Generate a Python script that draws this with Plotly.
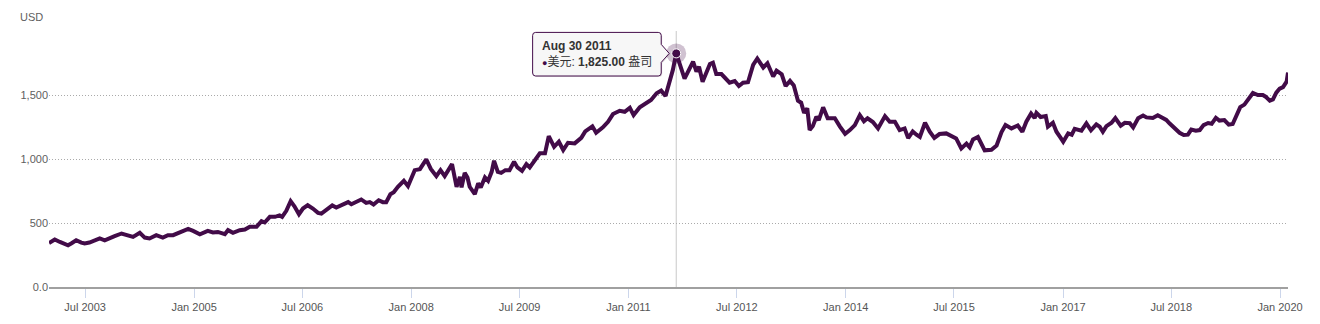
import plotly.graph_objects as go

# ---------------- data ----------------
dates = [
    "2002-12-31", "2003-01-29", "2003-02-24", "2003-03-11", "2003-04-06", "2003-04-22",
    "2003-05-17", "2003-06-12", "2003-06-29", "2003-07-23", "2003-08-18", "2003-09-13",
    "2003-10-08", "2003-11-03", "2003-11-27", "2004-01-01", "2004-01-25", "2004-02-28",
    "2004-04-02", "2004-04-27", "2004-05-21", "2004-06-24", "2004-07-27", "2004-08-22",
    "2004-09-17", "2004-10-21", "2004-12-02", "2004-12-27", "2005-01-30", "2005-03-11",
    "2005-04-06", "2005-05-01", "2005-06-05", "2005-06-21", "2005-07-16", "2005-08-19",
    "2005-09-14", "2005-10-09", "2005-11-12", "2005-12-07", "2005-12-23", "2006-01-18",
    "2006-02-13", "2006-03-08", "2006-03-21", "2006-04-11", "2006-05-03", "2006-05-22",
    "2006-06-14", "2006-07-04", "2006-07-28", "2006-08-23", "2006-09-18", "2006-10-05",
    "2006-10-29", "2006-11-29", "2006-12-19", "2007-01-10", "2007-02-01", "2007-02-17",
    "2007-03-05", "2007-03-29", "2007-04-24", "2007-05-19", "2007-06-06", "2007-06-25",
    "2007-07-21", "2007-08-11", "2007-08-28", "2007-09-18", "2007-10-05", "2007-10-26",
    "2007-11-25", "2007-12-16", "2008-01-19", "2008-02-14", "2008-03-17", "2008-04-09",
    "2008-05-07", "2008-05-28", "2008-06-18", "2008-07-25", "2008-08-17", "2008-09-03",
    "2008-09-11", "2008-09-27", "2008-10-11", "2008-10-22", "2008-11-17", "2008-12-04",
    "2008-12-17", "2009-01-07", "2009-01-23", "2009-02-10", "2009-02-22", "2009-03-13",
    "2009-03-30", "2009-04-20", "2009-05-11", "2009-06-03", "2009-06-20", "2009-07-13",
    "2009-08-04", "2009-08-21", "2009-09-16", "2009-10-11", "2009-11-06", "2009-11-25",
    "2009-12-22", "2010-01-15", "2010-02-06", "2010-03-02", "2010-04-05", "2010-05-08",
    "2010-05-28", "2010-06-15", "2010-07-03", "2010-07-22", "2010-08-25", "2010-09-20",
    "2010-10-15", "2010-11-18", "2010-12-13", "2011-01-08", "2011-01-27", "2011-02-27",
    "2011-04-01", "2011-04-25", "2011-05-23", "2011-06-15", "2011-07-07", "2011-07-26",
    "2011-08-13", "2011-08-30", "2011-10-11", "2011-11-23", "2011-12-10", "2011-12-23",
    "2012-01-10", "2012-02-16", "2012-03-02", "2012-03-19", "2012-04-14", "2012-05-25",
    "2012-06-20", "2012-07-11", "2012-08-01", "2012-08-26", "2012-09-21", "2012-10-12",
    "2012-11-11", "2012-12-02", "2012-12-31", "2013-01-17", "2013-02-12", "2013-03-04",
    "2013-03-26", "2013-04-14", "2013-05-05", "2013-05-21", "2013-06-05", "2013-06-21",
    "2013-07-03", "2013-07-19", "2013-08-06", "2013-08-18", "2013-09-09", "2013-10-02",
    "2013-11-07", "2013-12-02", "2013-12-29", "2014-01-22", "2014-02-16", "2014-03-13",
    "2014-04-03", "2014-04-21", "2014-05-18", "2014-06-13", "2014-07-18", "2014-08-11",
    "2014-09-06", "2014-09-30", "2014-10-25", "2014-11-12", "2014-12-05", "2014-12-24",
    "2015-01-10", "2015-02-05", "2015-03-01", "2015-03-24", "2015-04-19", "2015-05-23",
    "2015-06-17", "2015-07-12", "2015-08-07", "2015-09-02", "2015-09-18", "2015-10-05",
    "2015-10-30", "2015-12-03", "2016-01-06", "2016-02-01", "2016-02-26", "2016-03-17",
    "2016-04-16", "2016-05-18", "2016-06-10", "2016-06-30", "2016-07-24", "2016-08-11",
    "2016-08-20", "2016-09-10", "2016-10-06", "2016-10-17", "2016-11-11", "2016-11-29",
    "2016-12-16", "2017-01-02", "2017-01-27", "2017-02-14", "2017-03-01", "2017-04-04",
    "2017-04-29", "2017-05-22", "2017-06-18", "2017-07-05", "2017-07-21", "2017-08-08",
    "2017-09-03", "2017-09-22", "2017-10-19", "2017-11-09", "2017-12-04", "2017-12-21",
    "2018-01-15", "2018-02-09", "2018-02-26", "2018-03-30", "2018-04-24", "2018-05-16",
    "2018-06-06", "2018-06-22", "2018-07-17", "2018-08-12", "2018-09-02", "2018-09-23",
    "2018-10-10", "2018-11-02", "2018-11-22", "2018-12-11", "2019-01-03", "2019-01-21",
    "2019-02-11", "2019-03-01", "2019-03-26", "2019-04-17", "2019-05-07", "2019-05-24",
    "2019-06-14", "2019-07-05", "2019-07-27", "2019-08-17", "2019-09-11", "2019-10-06",
    "2019-10-20", "2019-11-10", "2019-11-26", "2019-12-13", "2019-12-30", "2020-01-16",
    "2020-02-03", "2020-02-10",
]

prices = [
    344, 371, 352, 344, 326, 340,
    365, 347, 340, 347, 365, 379,
    365, 386, 397, 418, 410, 391,
    423, 386, 379, 405, 386, 405,
    405, 426, 454, 438, 412, 438,
    426, 430, 412, 444, 423, 444,
    449, 470, 470, 514, 504, 548,
    548, 559, 548, 595, 671, 631,
    569, 613, 639, 613, 579, 574,
    600, 637, 621, 637, 653, 663,
    647, 665, 684, 657, 663, 645,
    678, 663, 663, 725, 740, 783,
    830, 788, 913, 921, 997, 923,
    866, 913, 866, 960, 783, 861,
    778, 892, 856, 783, 725, 809,
    778, 856, 830, 900, 986, 900,
    892, 913, 913, 978, 934, 908,
    960, 934, 991, 1044, 1044, 1179,
    1095, 1135, 1070, 1127, 1122, 1165,
    1215, 1240, 1255, 1205, 1247, 1291,
    1351, 1377, 1369, 1400, 1343, 1404,
    1435, 1461, 1513, 1534, 1492, 1592,
    1696, 1825, 1628, 1761, 1682, 1721,
    1604, 1743, 1753, 1664, 1664, 1596,
    1609, 1570, 1596, 1600, 1735, 1785,
    1715, 1748, 1645, 1690, 1662, 1570,
    1610, 1575, 1455, 1440, 1360, 1396,
    1226, 1257, 1330, 1304, 1404, 1318,
    1318, 1255, 1197, 1226, 1265, 1343,
    1295, 1318, 1289, 1239, 1335, 1291,
    1291, 1226, 1239, 1163, 1215, 1190,
    1172, 1283, 1213, 1165, 1195, 1200,
    1179, 1161, 1083, 1120, 1091, 1153,
    1172, 1068, 1072, 1105, 1210, 1265,
    1239, 1262, 1213, 1291, 1355, 1320,
    1360, 1328, 1335, 1252, 1283, 1213,
    1174, 1135, 1200, 1190, 1235, 1221,
    1279, 1224, 1271, 1252, 1213, 1257,
    1283, 1320, 1260, 1283, 1280, 1247,
    1318, 1340, 1325, 1320, 1342, 1325,
    1305, 1279, 1245, 1205, 1187, 1190,
    1230, 1221, 1226, 1265, 1281, 1275,
    1322, 1300, 1304, 1268, 1273, 1330,
    1405, 1425, 1474, 1516, 1500, 1500,
    1487, 1456, 1466, 1518, 1550, 1562,
    1604, 1675,
]

highlight_date = "2011-08-30"
highlight_value = 1825.00
highlight_label = "Aug 30 2011"
series_name = "美元"
unit_name = "盎司"
axis_title = "USD"

y_tick_vals = [0, 500, 1000, 1500, 2000]
y_tick_text = ["0.0", "500", "1,000", "1,500", ""]
x_range = ["2002-12-31", "2020-02-10"]

# ---------------- styling ----------------
LINE = "#420b48"
FONT = "Liberation Sans, Arial, Noto Sans CJK SC, sans-serif"
LABEL = "#606060"

fig = go.Figure()

fig.add_trace(go.Scatter(
    x=dates, y=prices, mode="lines",
    line=dict(color=LINE, width=4),
    hoverinfo="skip", showlegend=False,
))
# hover halo + marker
fig.add_trace(go.Scatter(
    x=[highlight_date], y=[highlight_value], mode="markers",
    marker=dict(size=20, color="rgba(66,11,72,0.25)", line=dict(width=0)),
    hoverinfo="skip", showlegend=False,
))
fig.add_trace(go.Scatter(
    x=[highlight_date], y=[highlight_value], mode="markers",
    marker=dict(size=9, color=LINE, line=dict(color="white", width=1)),
    hoverinfo="skip", showlegend=False,
))

# crosshair
fig.add_shape(type="line", xref="x", yref="paper",
              x0=highlight_date, x1=highlight_date, y0=0, y1=1,
              line=dict(color="#c8c8c8", width=1), layer="below")

# tooltip box (pixel offsets relative to the hovered point)
box_path = ("M -140.6,21 L -18,21 Q -15,21 -15,18 L -15,9 L -7,0 L -15,-9 "
            "L -15,-19.6 Q -15,-22.6 -18,-22.6 L -140.6,-22.6 "
            "Q -143.6,-22.6 -143.6,-19.6 L -143.6,18 Q -143.6,21 -140.6,21 Z")
shadow_path = ("M -139.6,20 L -17,20 Q -14,20 -14,17 L -14,8 L -6,-1 L -14,-10 "
               "L -14,-20.6 Q -14,-23.6 -17,-23.6 L -139.6,-23.6 "
               "Q -142.6,-23.6 -142.6,-20.6 L -142.6,17 Q -142.6,20 -139.6,20 Z")
fig.add_shape(type="path", xref="x", yref="y", xsizemode="pixel", ysizemode="pixel",
              xanchor=highlight_date, yanchor=highlight_value, path=shadow_path,
              fillcolor="rgba(0,0,0,0.10)", line=dict(width=0))
fig.add_shape(type="path", xref="x", yref="y", xsizemode="pixel", ysizemode="pixel",
              xanchor=highlight_date, yanchor=highlight_value, path=box_path,
              fillcolor="rgba(248,248,248,0.95)", line=dict(color=LINE, width=1))

tooltip_text = (f"<b>{highlight_label}</b><br>"
                f"<span style='color:{LINE};font-size:9px'>●</span>{series_name}: "
                f"<b>{highlight_value:,.2f}</b> {unit_name}")
fig.add_annotation(x=highlight_date, y=highlight_value, xref="x", yref="y",
                   text=tooltip_text, showarrow=False, xanchor="left", yanchor="middle",
                   align="left", xshift=-136, yshift=-1,
                   font=dict(family=FONT, size=12, color="#333333"))

# axis title "USD"
fig.add_annotation(x=0, y=1, xref="paper", yref="paper", text=axis_title,
                   showarrow=False, xanchor="right", yanchor="middle",
                   xshift=-4, yshift=14, font=dict(family=FONT, size=11, color=LABEL))

fig.update_layout(
    width=1320, height=324,
    margin=dict(l=49, r=32, t=31, b=37, autoexpand=False),
    paper_bgcolor="white", plot_bgcolor="white",
    showlegend=False, hovermode=False,
    font=dict(family=FONT, size=11, color=LABEL),
)
fig.update_xaxes(
    type="date", range=x_range,
    tick0="2003-07-01", dtick="M18", tickformat="%b %Y",
    ticks="outside", ticklen=9, tickwidth=1, tickcolor="#ccd6eb",
    showgrid=False, zeroline=False,
    showline=True, linecolor="#a0a0a0", linewidth=2,
    tickfont=dict(family=FONT, size=11, color="#555555"),
    automargin=False,
)
fig.update_yaxes(
    range=[0, 2000], tickvals=y_tick_vals, ticktext=y_tick_text,
    showgrid=True, gridcolor="#aaaaaa", gridwidth=1, griddash="1px,2px",
    zeroline=False, showline=False, ticks="",
    tickfont=dict(family=FONT, size=11, color=LABEL),
    automargin=False,
)

fig.write_html("out.html", config={"displayModeBar": False})
